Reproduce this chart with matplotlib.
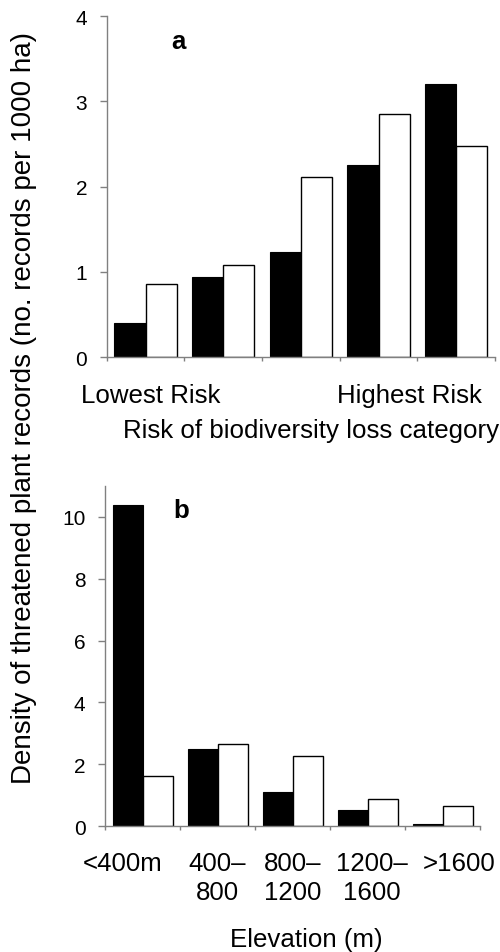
import matplotlib.pyplot as plt
import matplotlib.transforms as mtransforms
import numpy as np

plt.rcParams['font.family'] = ['Liberation Sans', 'DejaVu Sans']

# panel a: risk of biodiversity loss category (5 classes)
risk_black = [0.40, 0.94, 1.23, 2.25, 3.20]
risk_white = [0.86, 1.08, 2.11, 2.85, 2.48]
risk_labels = ["Lowest Risk", "Highest Risk"]
risk_label_pos = [0.07, 3.4]

# panel b: elevation bands
elev_labels = ["<400m", "400–\n800", "800–\n1200", "1200–\n1600", ">1600"]
elev_black = [10.4, 2.49, 1.11, 0.53, 0.05]
elev_white = [1.63, 2.66, 2.27, 0.88, 0.66]
# small horizontal nudges (points) of the elevation tick labels, as printed
elev_label_shift = [-14, 0, 0, 3, 12]

SPINE = "#808080"
FS = 18.6


def _bars(ax, black, white):
    x = np.arange(len(black))
    ax.bar(x - 0.2, black, 0.4, color="black", edgecolor="black", linewidth=0.8)
    ax.bar(x + 0.2, white, 0.4, color="white", edgecolor="black", linewidth=1.0)
    ax.set_xlim(-0.5, len(black) - 0.5)
    ax.set_xticks(np.arange(-0.5, len(black)), minor=True)
    for s in ("top", "right"):
        ax.spines[s].set_visible(False)
    for s in ("left", "bottom"):
        ax.spines[s].set_color(SPINE)
        ax.spines[s].set_linewidth(1.0)
    ax.tick_params(axis="y", direction="out", length=5, width=1, color=SPINE,
                   labelsize=15, pad=9)
    ax.tick_params(axis="x", which="minor", direction="out", length=3, width=1,
                   color=SPINE)
    ax.tick_params(axis="x", which="major", length=0, labelsize=FS)


fig = plt.figure(figsize=(5, 9.53), dpi=100)

ax_a = fig.add_axes([0.2134, 0.6243, 0.7766, 0.3578])
_bars(ax_a, risk_black, risk_white)
ax_a.tick_params(axis="x", which="major", pad=19)
ax_a.set_ylim(0, 4)
ax_a.set_yticks([0, 1, 2, 3, 4])
ax_a.set_xticks(risk_label_pos)
ax_a.set_xticklabels(risk_labels)
ax_a.set_xlabel("Risk of biodiversity loss category", fontsize=FS)
ax_a.xaxis.set_label_coords(0.526, -0.18)
ax_a.text(0.184, 0.928, "a", transform=ax_a.transAxes, fontsize=FS,
          fontweight="bold", ha="center", va="center")

ax_b = fig.add_axes([0.21, 0.1322, 0.75, 0.3568])
_bars(ax_b, elev_black, elev_white)
ax_b.tick_params(axis="x", which="major", pad=18)
ax_b.set_ylim(0, 11)
ax_b.set_yticks([0, 2, 4, 6, 8, 10])
ax_b.set_xticks(np.arange(len(elev_labels)))
ax_b.set_xticklabels(elev_labels, linespacing=1.25)
for lab, dx in zip(ax_b.get_xticklabels(), elev_label_shift):
    lab.set_transform(lab.get_transform() +
                      mtransforms.ScaledTranslation(dx / 72, 0, fig.dpi_scale_trans))
ax_b.set_xlabel("Elevation (m)", fontsize=FS)
ax_b.xaxis.set_label_coords(0.536, -0.297)
ax_b.text(0.204, 0.929, "b", transform=ax_b.transAxes, fontsize=FS,
          fontweight="bold", ha="center", va="center")

fig.text(0.048, 1 - 408 / 953,
         "Density of threatened plant records (no. records per 1000 ha)",
         rotation=90, ha="center", va="center", fontsize=20)

fig.savefig("out.png", dpi=100)
